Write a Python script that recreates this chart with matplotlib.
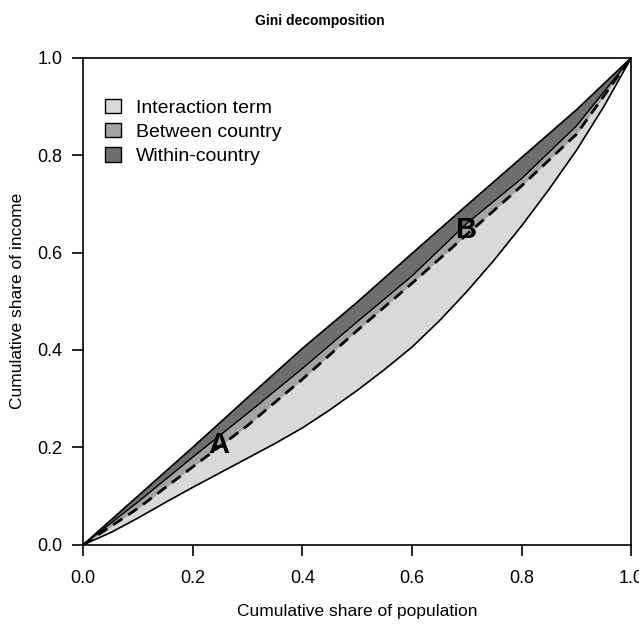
import matplotlib
matplotlib.use("Agg")
from matplotlib import pyplot as plt
from matplotlib.patches import Patch

plt.rcParams['font.family'] = ['Liberation Sans', 'DejaVu Sans']

# Cumulative share of population (coarse grid for the bands)
pop = [0.0, 0.1, 0.2, 0.3, 0.4, 0.5, 0.6, 0.7, 0.8, 0.9, 1.0]

# Upper edge (close to equality line)
top_curve = [0.0, 0.100, 0.200, 0.302, 0.403, 0.498, 0.598, 0.697, 0.795, 0.893, 1.0]

# Lower edge of the within-country band
within_curve = [0.0, 0.088, 0.180, 0.270, 0.362, 0.458, 0.552, 0.660, 0.752, 0.860, 1.0]

# Dashed curve (lower edge of the between-country band)
between_curve = [0.0, 0.075, 0.160, 0.245, 0.340, 0.440, 0.537, 0.637, 0.737, 0.843, 1.0]

# Lorenz curve (finer grid)
pop_fine = [0.0, 0.05, 0.1, 0.15, 0.2, 0.25, 0.3, 0.35, 0.4, 0.45, 0.5,
            0.55, 0.6, 0.65, 0.7, 0.75, 0.8, 0.85, 0.9, 0.95, 1.0]
lorenz = [0.0, 0.025, 0.055, 0.087, 0.118, 0.148, 0.178, 0.208, 0.240, 0.277, 0.317,
          0.360, 0.406, 0.460, 0.520, 0.585, 0.655, 0.730, 0.810, 0.900, 1.0]

labels = ["Interaction term", "Between country", "Within-country"]
colors = ["#d9d9d9", "#a3a3a3", "#6e6e6e"]

fig = plt.figure(figsize=(6.39, 6.27), dpi=100)
ax = fig.add_axes([0.130, 0.131, 0.858, 0.777])

# Filled bands: light band is the dashed curve down to the Lorenz curve
ax.fill(pop + pop_fine[::-1], between_curve + lorenz[::-1], color=colors[0], linewidth=0)
ax.fill_between(pop, within_curve, between_curve, color=colors[1], linewidth=0)
ax.fill_between(pop, top_curve, within_curve, color=colors[2], linewidth=0)

# Curves
ax.plot(pop, top_curve, color="black", lw=1.3)
ax.plot(pop, within_curve, color="black", lw=1.0)
ax.plot(pop, between_curve, color="black", lw=2.0, dashes=(4, 2.5))
ax.plot(pop_fine, lorenz, color="black", lw=1.2)

ax.text(0.247, 0.205, "A", fontsize=21, fontweight="bold", ha="center", va="center")
ax.text(0.700, 0.647, "B", fontsize=21, fontweight="bold", ha="center", va="center")

ax.set_xlim(0, 1)
ax.set_ylim(0, 1)
ticks = [0.0, 0.2, 0.4, 0.6, 0.8, 1.0]
ax.set_xticks(ticks)
ax.set_yticks(ticks)
ax.set_xticklabels(["%.1f" % t for t in ticks])
ax.set_yticklabels(["%.1f" % t for t in ticks])
ax.tick_params(axis="both", direction="out", length=8, width=1.2, labelsize=13)
ax.tick_params(axis="x", pad=10)
ax.tick_params(axis="y", pad=7)
for s in ax.spines.values():
    s.set_linewidth(1.2)

ax.set_xlabel("Cumulative share of population", fontsize=12.5, labelpad=12)
ax.set_ylabel("Cumulative share of income", fontsize=12.5, labelpad=9)
fig.suptitle("Gini decomposition", fontsize=10, fontweight="bold", y=0.978)

handles = [Patch(facecolor=c, edgecolor="black", linewidth=1.0) for c in colors]
ax.legend(handles, labels, loc="upper left", bbox_to_anchor=(0.026, 0.932),
          frameon=False, fontsize=14, handlelength=0.8, handleheight=0.8,
          handletextpad=0.8, labelspacing=0.3, borderaxespad=0)

fig.savefig("out.png", dpi=100)
